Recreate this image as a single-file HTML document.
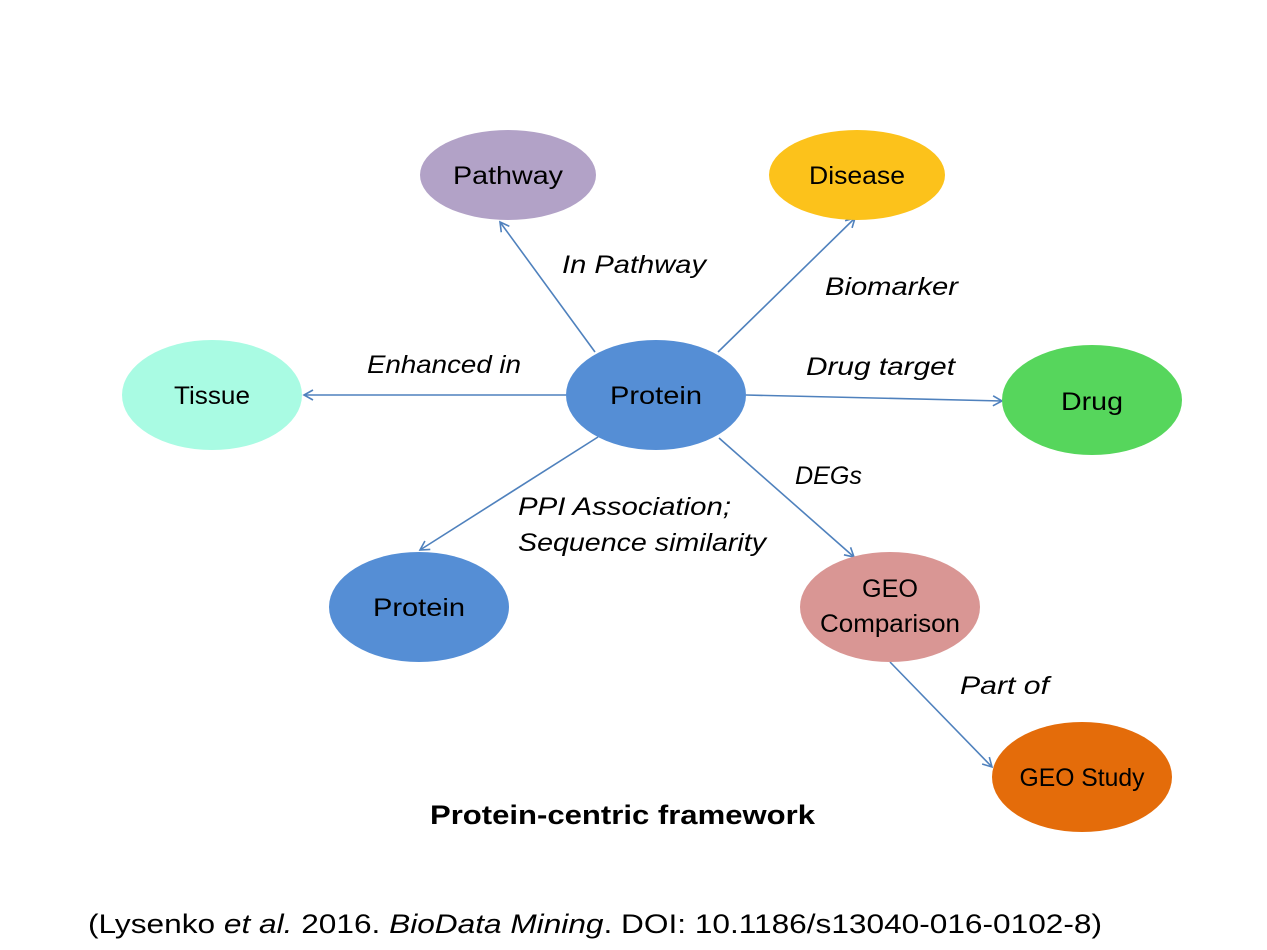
<!DOCTYPE html>
<html><head><meta charset="utf-8"><style>
html,body{margin:0;padding:0;background:#fff;}
svg{display:block;}
text{font-family:"Liberation Sans",sans-serif;}
</style></head><body>
<svg width="1267" height="950" viewBox="0 0 1267 950" xmlns="http://www.w3.org/2000/svg">
<defs>
<marker id="a" markerWidth="12" markerHeight="12" refX="10" refY="6" orient="auto" markerUnits="userSpaceOnUse">
<path d="M1,1 L10,6 L1,11" fill="none" stroke="#4f81bd" stroke-width="1.6"/>
</marker>
</defs>
<g stroke="#4f81bd" stroke-width="1.6" fill="none" marker-end="url(#a)">
<line x1="595" y1="352" x2="500" y2="222"/>
<line x1="718" y1="352" x2="855" y2="218"/>
<line x1="566" y1="395" x2="304" y2="395"/>
<line x1="746" y1="395" x2="1002" y2="401"/>
<line x1="598" y1="437" x2="420" y2="550"/>
<line x1="719" y1="438" x2="854" y2="557"/>
<line x1="890" y1="662" x2="992" y2="767"/>
</g>
<ellipse cx="508" cy="175" rx="88" ry="45" fill="#b2a2c7"/>
<ellipse cx="857" cy="175" rx="88" ry="45" fill="#fcc21b"/>
<ellipse cx="212" cy="395" rx="90" ry="55" fill="#a9fbe3"/>
<ellipse cx="656" cy="395" rx="90" ry="55" fill="#558ed5"/>
<ellipse cx="1092" cy="400" rx="90" ry="55" fill="#56d65c"/>
<ellipse cx="419" cy="607" rx="90" ry="55" fill="#558ed5"/>
<ellipse cx="890" cy="607" rx="90" ry="55" fill="#d99694"/>
<ellipse cx="1082" cy="777" rx="90" ry="55" fill="#e46c0a"/>
<g font-size="25" fill="#000" text-anchor="middle">
<text x="508" y="184" textLength="110" lengthAdjust="spacingAndGlyphs">Pathway</text>
<text x="857" y="184" textLength="96" lengthAdjust="spacingAndGlyphs">Disease</text>
<text x="212" y="404" textLength="76" lengthAdjust="spacingAndGlyphs">Tissue</text>
<text x="656" y="404" textLength="92" lengthAdjust="spacingAndGlyphs">Protein</text>
<text x="1092" y="410" textLength="62" lengthAdjust="spacingAndGlyphs">Drug</text>
<text x="419" y="616" textLength="92" lengthAdjust="spacingAndGlyphs">Protein</text>
<text x="890" y="597" textLength="56" lengthAdjust="spacingAndGlyphs">GEO</text>
<text x="890" y="632" textLength="140" lengthAdjust="spacingAndGlyphs">Comparison</text>
<text x="1082" y="786" textLength="125" lengthAdjust="spacingAndGlyphs">GEO Study</text>
</g>
<g font-size="25" font-style="italic" fill="#000">
<text x="562" y="273" textLength="144" lengthAdjust="spacingAndGlyphs">In Pathway</text>
<text x="825" y="295" textLength="133" lengthAdjust="spacingAndGlyphs">Biomarker</text>
<text x="367" y="373" textLength="154" lengthAdjust="spacingAndGlyphs">Enhanced in</text>
<text x="806" y="375" textLength="149" lengthAdjust="spacingAndGlyphs">Drug target</text>
<text x="795" y="484" textLength="67" lengthAdjust="spacingAndGlyphs">DEGs</text>
<text x="518" y="515" textLength="213" lengthAdjust="spacingAndGlyphs">PPI Association;</text>
<text x="518" y="551" textLength="248" lengthAdjust="spacingAndGlyphs">Sequence similarity</text>
<text x="960" y="694" textLength="89" lengthAdjust="spacingAndGlyphs">Part of</text>
</g>
<text x="430" y="824" font-size="27" font-weight="bold" textLength="385" lengthAdjust="spacingAndGlyphs">Protein-centric framework</text>
<text x="88" y="933" font-size="27" textLength="1014" lengthAdjust="spacingAndGlyphs">(Lysenko <tspan font-style="italic">et al.</tspan> 2016. <tspan font-style="italic">BioData Mining</tspan>. DOI: 10.1186/s13040-016-0102-8)</text>
</svg>
</body></html>
